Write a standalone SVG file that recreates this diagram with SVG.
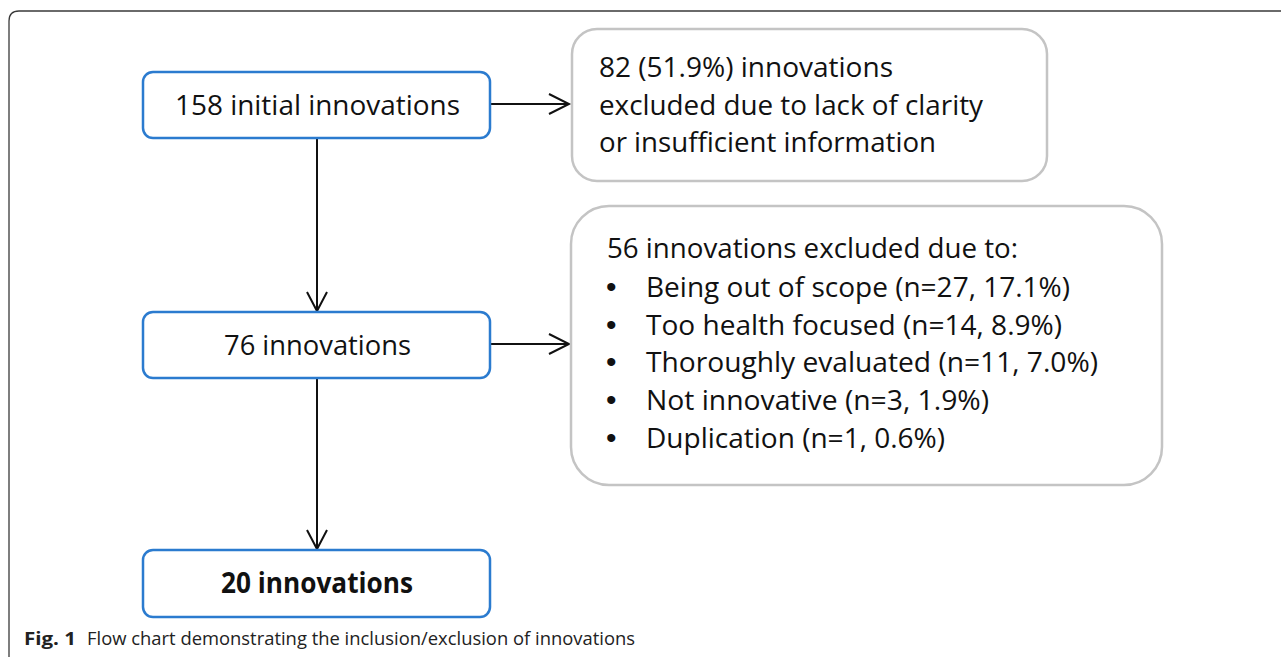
<svg xmlns="http://www.w3.org/2000/svg" width="1281" height="657" viewBox="0 0 1281 657">
<style>
.frame{fill:none;stroke:#3a3a3a;stroke-width:1.3}
.main{fill:#fff;stroke:#2b7bcf;stroke-width:2.5}
.excl{fill:#fff;stroke:#c4c4c4;stroke-width:2.5}
.t{font-family:"Open Sans","Liberation Sans",sans-serif;font-size:28px;fill:#111}
.bul{font-family:"Liberation Sans",sans-serif;font-size:30px;fill:#111}
.b{font-weight:bold}
.cap{font-family:"Open Sans","Liberation Sans",sans-serif;font-size:18px;fill:#222}
.conn{fill:none;stroke:#111;stroke-width:2}
.head{fill:none;stroke:#111;stroke-width:2;stroke-linejoin:miter}
</style>
<rect width="1281" height="657" fill="#fff"/>
<path class="frame" d="M9 657 V21 Q9 11 19 11 H1281"/>
<g id="connectors">
<line class="conn" x1="317" y1="138" x2="317" y2="311"/>
<polyline class="head" points="307,292 317,311 327,292"/>
<line class="conn" x1="317" y1="378" x2="317" y2="549"/>
<polyline class="head" points="307,530 317,549 327,530"/>
<line class="conn" x1="490" y1="104" x2="569" y2="104"/>
<polyline class="head" points="549,94 569,104 549,114"/>
<line class="conn" x1="490" y1="344" x2="569" y2="344"/>
<polyline class="head" points="549,334 569,344 549,354"/>
</g>
<g id="n1">
<rect class="main" x="143" y="72" width="347" height="66" rx="10"/>
<text class="t" x="175" y="115" textLength="285" lengthAdjust="spacingAndGlyphs">158 initial innovations</text>
</g>
<g id="n2">
<rect class="main" x="143" y="312" width="347" height="66" rx="10"/>
<text class="t" x="224" y="355" textLength="187" lengthAdjust="spacingAndGlyphs">76 innovations</text>
</g>
<g id="n3">
<rect class="main" x="143" y="550" width="347" height="67" rx="10"/>
<text class="t b" x="221" y="593" textLength="192" lengthAdjust="spacingAndGlyphs">20 innovations</text>
</g>
<g id="e1">
<rect class="excl" x="572" y="29" width="475" height="152" rx="25"/>
<text class="t" x="599" y="77" textLength="294" lengthAdjust="spacingAndGlyphs">82 (51.9%) innovations</text>
<text class="t" x="599" y="115" textLength="384" lengthAdjust="spacingAndGlyphs">excluded due to lack of clarity</text>
<text class="t" x="599" y="152" textLength="337" lengthAdjust="spacingAndGlyphs">or insufficient information</text>
</g>
<g id="e2">
<rect class="excl" x="571" y="206" width="591" height="279" rx="38"/>
<text class="t" x="607" y="258" textLength="411" lengthAdjust="spacingAndGlyphs">56 innovations excluded due to:</text>
<text class="bul" x="606" y="297">•</text>
<text class="t" x="646" y="297" textLength="424" lengthAdjust="spacingAndGlyphs">Being out of scope (n=27, 17.1%)</text>
<text class="bul" x="606" y="335">•</text>
<text class="t" x="646" y="335" textLength="416" lengthAdjust="spacingAndGlyphs">Too health focused (n=14, 8.9%)</text>
<text class="bul" x="606" y="372">•</text>
<text class="t" x="646" y="372" textLength="452" lengthAdjust="spacingAndGlyphs">Thoroughly evaluated (n=11, 7.0%)</text>
<text class="bul" x="606" y="410">•</text>
<text class="t" x="646" y="410" textLength="343" lengthAdjust="spacingAndGlyphs">Not innovative (n=3, 1.9%)</text>
<text class="bul" x="606" y="448">•</text>
<text class="t" x="646" y="448" textLength="299" lengthAdjust="spacingAndGlyphs">Duplication (n=1, 0.6%)</text>
</g>
<g id="caption">
<text class="cap b" x="24" y="645" textLength="52" lengthAdjust="spacingAndGlyphs">Fig. 1</text>
<text class="cap" x="87" y="645" textLength="548" lengthAdjust="spacingAndGlyphs">Flow chart demonstrating the inclusion/exclusion of innovations</text>
</g>
</svg>
